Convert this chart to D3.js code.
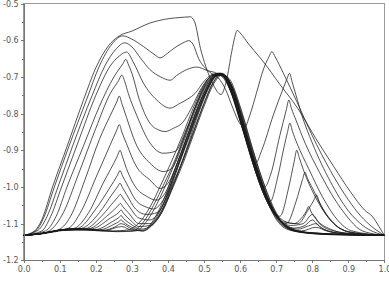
<!DOCTYPE html>
<html><head><meta charset="utf-8">
<script src="https://cdn.jsdelivr.net/npm/d3@7"></script>
<style>html,body{margin:0;padding:0;background:#fff;}svg{display:block;}</style>
</head><body><div id="chart"></div>
<script>
const xTicks = [0,0.1,0.2,0.3,0.4,0.5,0.6,0.7,0.8,0.9,1.0];
const xMinor = [0.05,0.15,0.25,0.35,0.45,0.55,0.65,0.75,0.85,0.95];
const yTicks = [-1.2,-1.1,-1.0,-0.9,-0.8,-0.7,-0.6,-0.5];
const yMinor = [-1.15,-1.05,-0.95,-0.85,-0.75,-0.65,-0.55];

const s01 = [[0,-1.132],[0.03,-1.12],[0.05,-1.09],[0.08,-1.0],[0.12,-0.89],[0.165,-0.765],[0.2,-0.675],[0.235,-0.615],[0.265,-0.588],[0.3,-0.575],[0.35,-0.553],[0.39,-0.543],[0.42,-0.539],[0.445,-0.537],[0.462,-0.536],[0.474,-0.55],[0.49,-0.622],[0.505,-0.672],[0.525,-0.72],[0.547,-0.748],[0.562,-0.71],[0.577,-0.63],[0.585,-0.592],[0.592,-0.573],[0.6,-0.58],[0.625,-0.612],[0.664,-0.658],[0.71,-0.72],[0.76,-0.786],[0.81,-0.868],[0.86,-0.945],[0.905,-1.012],[0.945,-1.063],[0.968,-1.082],[0.985,-1.108],[1.0,-1.132]];
const s02 = [[0,-1.132],[0.035,-1.118],[0.055,-1.085],[0.085,-1.0],[0.125,-0.89],[0.175,-0.76],[0.21,-0.67],[0.245,-0.61],[0.275,-0.588],[0.3,-0.597],[0.332,-0.617],[0.364,-0.64],[0.378,-0.648],[0.398,-0.636],[0.415,-0.623],[0.44,-0.608],[0.458,-0.601],[0.47,-0.612],[0.485,-0.65],[0.5,-0.672],[0.52,-0.69],[0.54,-0.703],[0.56,-0.735],[0.58,-0.785],[0.598,-0.825],[0.612,-0.838],[0.627,-0.804],[0.645,-0.745],[0.665,-0.678],[0.68,-0.645],[0.688,-0.631],[0.697,-0.645],[0.72,-0.69],[0.757,-0.767],[0.8,-0.86],[0.85,-0.955],[0.9,-1.035],[0.935,-1.08],[0.965,-1.108],[1.0,-1.132]];
const s03 = [[0,-1.132],[0.04,-1.118],[0.065,-1.08],[0.095,-1.0],[0.135,-0.89],[0.19,-0.75],[0.225,-0.67],[0.255,-0.625],[0.28,-0.607],[0.3,-0.618],[0.325,-0.65],[0.35,-0.68],[0.38,-0.7],[0.406,-0.709],[0.424,-0.696],[0.452,-0.68],[0.48,-0.673],[0.51,-0.683],[0.535,-0.69],[0.56,-0.712],[0.585,-0.77],[0.61,-0.85],[0.628,-0.905],[0.643,-0.935],[0.66,-0.9],[0.692,-0.804],[0.72,-0.73],[0.73,-0.705],[0.737,-0.69],[0.744,-0.713],[0.755,-0.75],[0.771,-0.804],[0.8,-0.88],[0.85,-0.985],[0.9,-1.065],[0.94,-1.105],[1.0,-1.132]];
const s04 = [[0,-1.132],[0.05,-1.12],[0.075,-1.08],[0.105,-1.0],[0.15,-0.88],[0.2,-0.75],[0.24,-0.67],[0.265,-0.643],[0.285,-0.632],[0.305,-0.662],[0.332,-0.717],[0.369,-0.763],[0.406,-0.785],[0.433,-0.772],[0.455,-0.76],[0.475,-0.745],[0.5,-0.712],[0.527,-0.692],[0.55,-0.697],[0.575,-0.74],[0.6,-0.815],[0.625,-0.895],[0.65,-0.97],[0.668,-1.0],[0.685,-0.965],[0.71,-0.86],[0.728,-0.79],[0.735,-0.763],[0.742,-0.785],[0.755,-0.818],[0.78,-0.88],[0.82,-0.96],[0.86,-1.03],[0.9,-1.085],[0.93,-1.115],[0.97,-1.128],[1.0,-1.132]];
const s05 = [[0,-1.132],[0.06,-1.12],[0.09,-1.08],[0.12,-1.0],[0.165,-0.89],[0.21,-0.78],[0.25,-0.7],[0.275,-0.664],[0.283,-0.652],[0.291,-0.668],[0.3,-0.69],[0.32,-0.76],[0.35,-0.826],[0.375,-0.845],[0.392,-0.849],[0.415,-0.84],[0.44,-0.825],[0.465,-0.785],[0.49,-0.735],[0.52,-0.698],[0.545,-0.692],[0.57,-0.725],[0.6,-0.81],[0.63,-0.91],[0.66,-1.0],[0.683,-1.04],[0.705,-0.97],[0.722,-0.89],[0.731,-0.852],[0.738,-0.826],[0.745,-0.848],[0.758,-0.882],[0.79,-0.95],[0.83,-1.03],[0.87,-1.09],[0.91,-1.12],[1.0,-1.132]];
const s06 = [[0,-1.132],[0.05,-1.127],[0.08,-1.113],[0.11,-1.07],[0.15,-0.97],[0.2,-0.84],[0.24,-0.745],[0.263,-0.71],[0.272,-0.695],[0.28,-0.712],[0.29,-0.745],[0.313,-0.804],[0.35,-0.88],[0.387,-0.908],[0.42,-0.903],[0.45,-0.845],[0.48,-0.772],[0.51,-0.712],[0.54,-0.69],[0.565,-0.713],[0.6,-0.82],[0.63,-0.92],[0.66,-1.0],[0.69,-1.06],[0.71,-1.08],[0.735,-1.0],[0.75,-0.93],[0.757,-0.9],[0.764,-0.92],[0.775,-0.952],[0.81,-1.03],[0.85,-1.09],[0.88,-1.115],[0.93,-1.127],[1.0,-1.132]];
const s07 = [[0,-1.132],[0.05,-1.127],[0.1,-1.115],[0.13,-1.08],[0.17,-0.98],[0.21,-0.87],[0.24,-0.805],[0.258,-0.768],[0.265,-0.752],[0.272,-0.772],[0.285,-0.81],[0.31,-0.88],[0.35,-0.935],[0.387,-0.958],[0.41,-0.95],[0.44,-0.885],[0.47,-0.805],[0.5,-0.735],[0.53,-0.697],[0.55,-0.695],[0.575,-0.74],[0.61,-0.85],[0.64,-0.95],[0.67,-1.03],[0.7,-1.08],[0.728,-1.1],[0.755,-1.04],[0.773,-0.98],[0.78,-0.96],[0.787,-0.977],[0.8,-1.002],[0.83,-1.06],[0.87,-1.108],[0.92,-1.127],[1.0,-1.132]];
const s08 = [[0,-1.132],[0.05,-1.127],[0.1,-1.118],[0.125,-1.112],[0.16,-1.065],[0.2,-0.975],[0.24,-0.885],[0.258,-0.845],[0.265,-0.83],[0.272,-0.85],[0.285,-0.882],[0.31,-0.94],[0.35,-0.981],[0.378,-1.004],[0.4,-0.99],[0.43,-0.925],[0.46,-0.845],[0.49,-0.765],[0.52,-0.708],[0.545,-0.69],[0.57,-0.72],[0.6,-0.81],[0.63,-0.91],[0.66,-1.0],[0.69,-1.065],[0.72,-1.095],[0.76,-1.1],[0.79,-1.06],[0.805,-1.035],[0.812,-1.022],[0.819,-1.04],[0.83,-1.062],[0.86,-1.1],[0.9,-1.122],[1.0,-1.132]];
const s09 = [[0,-1.132],[0.05,-1.127],[0.1,-1.118],[0.14,-1.113],[0.18,-1.07],[0.22,-0.99],[0.26,-0.915],[0.267,-0.9],[0.274,-0.918],[0.285,-0.95],[0.31,-1.0],[0.34,-1.025],[0.368,-1.036],[0.39,-1.02],[0.42,-0.95],[0.45,-0.87],[0.48,-0.79],[0.51,-0.722],[0.535,-0.692],[0.56,-0.705],[0.59,-0.78],[0.62,-0.88],[0.65,-0.97],[0.68,-1.04],[0.71,-1.085],[0.75,-1.1],[0.77,-1.085],[0.784,-1.065],[0.79,-1.053],[0.796,-1.066],[0.81,-1.087],[0.85,-1.115],[0.9,-1.127],[1.0,-1.132]];
const s10 = [[0,-1.132],[0.05,-1.127],[0.1,-1.118],[0.15,-1.113],[0.2,-1.06],[0.24,-1.0],[0.26,-0.968],[0.267,-0.955],[0.274,-0.97],[0.285,-0.99],[0.31,-1.035],[0.34,-1.055],[0.36,-1.06],[0.39,-1.03],[0.42,-0.96],[0.45,-0.88],[0.48,-0.8],[0.51,-0.73],[0.535,-0.695],[0.555,-0.696],[0.58,-0.75],[0.61,-0.85],[0.64,-0.95],[0.67,-1.03],[0.7,-1.08],[0.74,-1.105],[0.775,-1.1],[0.8,-1.075],[0.82,-1.1],[0.86,-1.12],[0.92,-1.128],[1.0,-1.132]];
const s11 = [[0,-1.132],[0.05,-1.127],[0.1,-1.118],[0.16,-1.113],[0.21,-1.07],[0.245,-1.02],[0.26,-1.0],[0.267,-0.99],[0.274,-1.002],[0.285,-1.02],[0.31,-1.06],[0.34,-1.075],[0.37,-1.07],[0.4,-1.02],[0.43,-0.94],[0.46,-0.86],[0.49,-0.78],[0.515,-0.722],[0.54,-0.692],[0.56,-0.7],[0.59,-0.77],[0.62,-0.87],[0.65,-0.96],[0.68,-1.04],[0.71,-1.09],[0.75,-1.112],[0.78,-1.105],[0.8,-1.09],[0.82,-1.108],[0.87,-1.125],[1.0,-1.132]];
const s12 = [[0,-1.132],[0.05,-1.127],[0.1,-1.118],[0.17,-1.114],[0.22,-1.075],[0.25,-1.04],[0.261,-1.028],[0.268,-1.02],[0.275,-1.03],[0.29,-1.05],[0.32,-1.085],[0.35,-1.09],[0.38,-1.06],[0.41,-0.99],[0.44,-0.91],[0.47,-0.83],[0.5,-0.755],[0.525,-0.706],[0.545,-0.69],[0.57,-0.715],[0.6,-0.8],[0.63,-0.9],[0.66,-0.99],[0.69,-1.06],[0.72,-1.1],[0.76,-1.115],[0.79,-1.106],[0.81,-1.1],[0.83,-1.115],[0.88,-1.127],[1.0,-1.132]];
const s13 = [[0,-1.132],[0.05,-1.127],[0.1,-1.118],[0.18,-1.114],[0.23,-1.08],[0.261,-1.052],[0.268,-1.045],[0.275,-1.054],[0.29,-1.07],[0.32,-1.1],[0.35,-1.1],[0.38,-1.07],[0.41,-1.0],[0.44,-0.93],[0.47,-0.85],[0.5,-0.772],[0.525,-0.716],[0.55,-0.693],[0.575,-0.72],[0.605,-0.81],[0.635,-0.91],[0.665,-1.0],[0.695,-1.07],[0.725,-1.105],[0.77,-1.12],[0.81,-1.11],[0.84,-1.12],[0.9,-1.129],[1.0,-1.132]];
const s14 = [[0,-1.132],[0.05,-1.127],[0.1,-1.118],[0.19,-1.114],[0.24,-1.085],[0.263,-1.07],[0.27,-1.063],[0.277,-1.072],[0.295,-1.09],[0.32,-1.108],[0.35,-1.105],[0.38,-1.075],[0.41,-1.01],[0.44,-0.94],[0.47,-0.86],[0.5,-0.78],[0.525,-0.722],[0.55,-0.695],[0.575,-0.72],[0.605,-0.8],[0.635,-0.9],[0.665,-0.99],[0.695,-1.065],[0.725,-1.105],[0.77,-1.123],[0.85,-1.128],[1.0,-1.132]];
const s15 = [[0,-1.132],[0.05,-1.127],[0.1,-1.118],[0.2,-1.116],[0.245,-1.095],[0.263,-1.084],[0.27,-1.078],[0.277,-1.086],[0.295,-1.1],[0.325,-1.115],[0.355,-1.105],[0.385,-1.065],[0.415,-0.995],[0.445,-0.92],[0.475,-0.84],[0.5,-0.772],[0.525,-0.716],[0.545,-0.692],[0.57,-0.705],[0.6,-0.78],[0.63,-0.88],[0.66,-0.975],[0.69,-1.05],[0.72,-1.1],[0.76,-1.12],[0.85,-1.128],[1.0,-1.132]];
const s16 = [[0,-1.132],[0.05,-1.127],[0.1,-1.118],[0.21,-1.117],[0.25,-1.102],[0.263,-1.095],[0.27,-1.09],[0.277,-1.096],[0.3,-1.11],[0.33,-1.12],[0.36,-1.1],[0.39,-1.05],[0.42,-0.98],[0.45,-0.9],[0.48,-0.812],[0.51,-0.737],[0.535,-0.698],[0.555,-0.695],[0.58,-0.735],[0.61,-0.83],[0.64,-0.93],[0.67,-1.015],[0.7,-1.075],[0.73,-1.11],[0.78,-1.124],[0.88,-1.13],[1.0,-1.132]];
const s17 = [[0,-1.132],[0.05,-1.127],[0.1,-1.118],[0.14,-1.114],[0.22,-1.118],[0.255,-1.108],[0.27,-1.1],[0.3,-1.115],[0.33,-1.12],[0.36,-1.095],[0.39,-1.04],[0.42,-0.96],[0.45,-0.88],[0.48,-0.797],[0.51,-0.73],[0.535,-0.694],[0.56,-0.7],[0.585,-0.755],[0.615,-0.85],[0.645,-0.95],[0.675,-1.03],[0.705,-1.085],[0.735,-1.113],[0.8,-1.126],[1.0,-1.132]];
const s18 = [[0,-1.132],[0.05,-1.127],[0.1,-1.118],[0.14,-1.114],[0.22,-1.12],[0.272,-1.108],[0.3,-1.118],[0.33,-1.118],[0.36,-1.09],[0.39,-1.03],[0.42,-0.95],[0.45,-0.87],[0.48,-0.79],[0.505,-0.735],[0.53,-0.7],[0.55,-0.69],[0.575,-0.72],[0.6,-0.79],[0.63,-0.89],[0.66,-0.985],[0.69,-1.06],[0.72,-1.1],[0.76,-1.12],[0.85,-1.13],[1.0,-1.132]];
const s19 = [[0,-1.132],[0.05,-1.127],[0.1,-1.118],[0.14,-1.114],[0.2,-1.118],[0.25,-1.121],[0.3,-1.12],[0.33,-1.098],[0.36,-1.05],[0.39,-0.99],[0.42,-0.925],[0.45,-0.85],[0.48,-0.77],[0.505,-0.715],[0.53,-0.692],[0.55,-0.695],[0.575,-0.74],[0.6,-0.815],[0.63,-0.91],[0.655,-0.99],[0.68,-1.05],[0.7,-1.088],[0.725,-1.113],[0.77,-1.124],[0.85,-1.13],[1.0,-1.132]];
const s20 = [[0,-1.132],[0.05,-1.126],[0.1,-1.117],[0.14,-1.113],[0.2,-1.117],[0.26,-1.122],[0.31,-1.12],[0.34,-1.095],[0.37,-1.045],[0.4,-0.98],[0.43,-0.905],[0.46,-0.825],[0.49,-0.75],[0.515,-0.708],[0.54,-0.69],[0.56,-0.697],[0.585,-0.75],[0.61,-0.835],[0.64,-0.935],[0.665,-1.01],[0.69,-1.065],[0.715,-1.1],[0.74,-1.117],[0.8,-1.127],[1.0,-1.132]];
const s21 = [[0,-1.132],[0.05,-1.128],[0.1,-1.12],[0.14,-1.116],[0.2,-1.119],[0.25,-1.12],[0.29,-1.117],[0.32,-1.098],[0.35,-1.055],[0.38,-0.995],[0.41,-0.93],[0.44,-0.86],[0.47,-0.785],[0.5,-0.722],[0.525,-0.695],[0.545,-0.693],[0.57,-0.73],[0.595,-0.805],[0.625,-0.9],[0.65,-0.98],[0.675,-1.04],[0.7,-1.085],[0.725,-1.11],[0.77,-1.123],[1.0,-1.132]];

const seriesList = [s01,s02,s03,s04,s05,s06,s07,s08,s09,s10,s11,s12,s13,s14,s15,s16,s17,s18,s19,s20,s21];

const W = 389, H = 286;
const x = d3.scaleLinear().domain([0,1]).range([23.7,384.4]);
const y = d3.scaleLinear().domain([-1.2,-0.5]).range([260.3,3.6]);

const svg = d3.select('#chart').append('svg').attr('width',W).attr('height',H);
svg.append('rect').attr('width',W).attr('height',H).attr('fill','#fff');

svg.append('rect').attr('x',x(0)).attr('y',y(-0.5)).attr('width',x(1)-x(0)).attr('height',y(-1.2)-y(-0.5))
  .attr('fill','none').attr('stroke','#9a9a9a').attr('stroke-width',1).attr('shape-rendering','crispEdges');

const line = d3.line().x(d=>x(d[0])).y(d=>y(d[1])).curve(d3.curveMonotoneX);
svg.append('g').selectAll('path').data(seriesList).join('path')
  .attr('d',line).attr('fill','none').attr('stroke','#1a1a1a').attr('stroke-width',0.75);

const fmt = d => d.toFixed(1);
const gx = svg.append('g').attr('transform',`translate(0,${y(-1.2)})`)
  .call(d3.axisBottom(x).tickValues(xTicks).tickFormat(fmt).tickSize(3).tickPadding(3));
const gxm = svg.append('g').attr('transform',`translate(0,${y(-1.2)})`)
  .call(d3.axisBottom(x).tickValues(xMinor).tickFormat('').tickSize(2));
const gy = svg.append('g').attr('transform',`translate(${x(0)},0)`)
  .call(d3.axisLeft(y).tickValues(yTicks).tickFormat(fmt).tickSize(3).tickPadding(2));
const gym = svg.append('g').attr('transform',`translate(${x(0)},0)`)
  .call(d3.axisLeft(y).tickValues(yMinor).tickFormat('').tickSize(2));
[gx,gxm,gy,gym].forEach(g=>{
  g.selectAll('.domain').attr('stroke','#777').attr('shape-rendering','crispEdges');
  g.selectAll('line').attr('stroke','#777').attr('shape-rendering','crispEdges');
  g.selectAll('text').attr('fill','#555').style('font-family','"DejaVu Sans", sans-serif').style('font-size','8px');
});
</script></body></html>
